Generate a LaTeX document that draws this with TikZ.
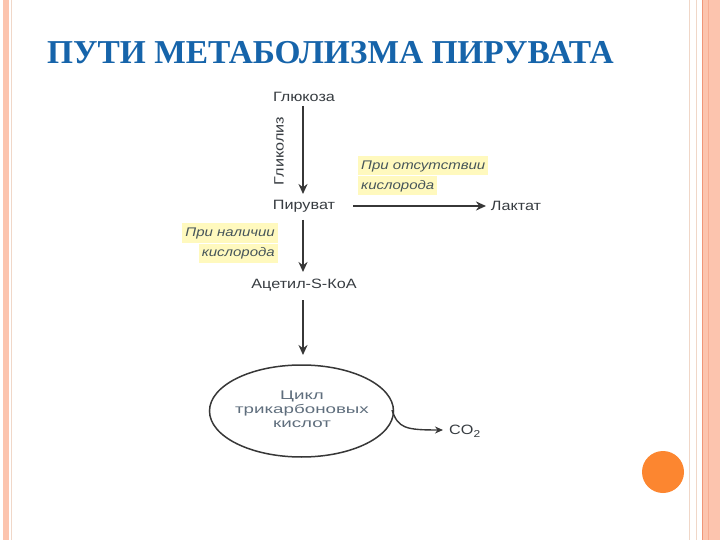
\documentclass[tikz,border=0pt]{standalone}
\usepackage{fontspec}
\setmainfont{Liberation Serif}
\newfontfamily\diagfont[FakeStretch=1.2]{Liberation Sans}
\newfontfamily\cyclefont[FakeStretch=1.5]{Liberation Sans}
\usetikzlibrary{arrows.meta,shapes.geometric}
\definecolor{titleblue}{RGB}{22,100,170}
\definecolor{peach}{RGB}{252,196,174}
\definecolor{peachline}{RGB}{240,150,120}
\definecolor{paleline}{RGB}{240,215,200}
\definecolor{dotorange}{RGB}{252,134,48}
\definecolor{arrowgray}{RGB}{55,55,55}
\definecolor{txtgray}{RGB}{55,60,65}
\definecolor{cyclegray}{RGB}{95,110,125}
\definecolor{hiyellow}{RGB}{255,249,190}
\definecolor{notegray}{RGB}{70,85,90}
\tikzset{
  lbl/.style={font=\diagfont\fontsize{13.5}{15}\selectfont, text=txtgray, inner sep=0pt},
  note/.style={font=\diagfont\itshape\fontsize{12.5}{14}\selectfont, text=notegray, inner xsep=3pt, inner ysep=0pt, minimum height=19pt, fill=hiyellow},
  flow/.style={draw=arrowgray, line width=1.8pt, -{Stealth[length=10pt,width=9pt]}},
}
\begin{document}
\begin{tikzpicture}[x=1pt,y=-1pt]
\useasboundingbox (0,0) rectangle (720,540);
\fill[white] (0,0) rectangle (720,540);
% left stripe
\fill[peach] (3,0) rectangle (9,540);
\draw[paleline, line width=0.6pt] (11.5,0) -- (11.5,540);
% right border
\draw[paleline, line width=1pt] (689.5,0) -- (689.5,540);
\draw[paleline, line width=1pt] (696.5,0) -- (696.5,540);
\fill[peach] (702,0) rectangle (720,540);
\draw[peachline, line width=1pt] (702,0) -- (702,540);
\draw[peachline!50!peach, line width=0.5pt] (708.5,0) -- (708.5,540);
% orange dot
\fill[dotorange] (663,472) circle (21);
% title
\node[anchor=base west, inner sep=0pt, text=titleblue, font=\bfseries\fontsize{33.4}{36}\selectfont] (title) at (47,64) {ПУТИ МЕТАБОЛИЗМА ПИРУВАТА};
% diagram nodes
\node[lbl] (glu) at (304,97) {Глюкоза};
\node[lbl] (pyr) at (304,206) {Пируват};
\node[lbl] (lac) at (516,206) {Лактат};
\node[lbl] (acc) at (304,285) {Ацетил-S-КоА};
\node[lbl, rotate=90] (glyc) at (279,151) {Гликолиз};
\node[draw=arrowgray, line width=1.5pt, ellipse, minimum width=184pt, minimum height=92pt, inner sep=0pt] (tca) at (301.5,411) {};
\node[font=\cyclefont\fontsize{12.5}{14}\selectfont, text=cyclegray, align=center, inner sep=0pt] (tcat) at (302,409) {Цикл\\трикарбоновых\\кислот};
\node[lbl, anchor=west] (co2) at (449,431) {CO\raisebox{-3pt}{\fontsize{10}{10}\selectfont 2}};
% notes
\node[note, anchor=west] (n1a) at (358,166) {При отсутствии};
\node[note, anchor=west] (n1b) at (358,186) {кислорода};
\node[note, anchor=east] (n2a) at (278,233) {При наличии};
\node[note, anchor=east] (n2b) at (278,253) {кислорода};
% arrows
\coordinate (g1) at (303,106);
\coordinate (g2) at (303,194);
\draw[flow] (g1) -- (g2);
\coordinate (h1) at (353,206);
\coordinate (h2) at (486,206);
\draw[flow] (h1) -- (h2);
\coordinate (p1) at (303,220);
\coordinate (p2) at (303,272);
\draw[flow] (p1) -- (p2);
\coordinate (a1) at (303,300);
\coordinate (a2) at (303,355);
\draw[flow] (a1) -- (a2);
\coordinate (c1) at (392,410);
\coordinate (c2) at (443,430);
\draw[draw=arrowgray, line width=1.4pt, -{Stealth[length=8pt,width=7pt]}] (c1) .. controls (398,428) and (405,430) .. (c2);
\end{tikzpicture}
\end{document}
